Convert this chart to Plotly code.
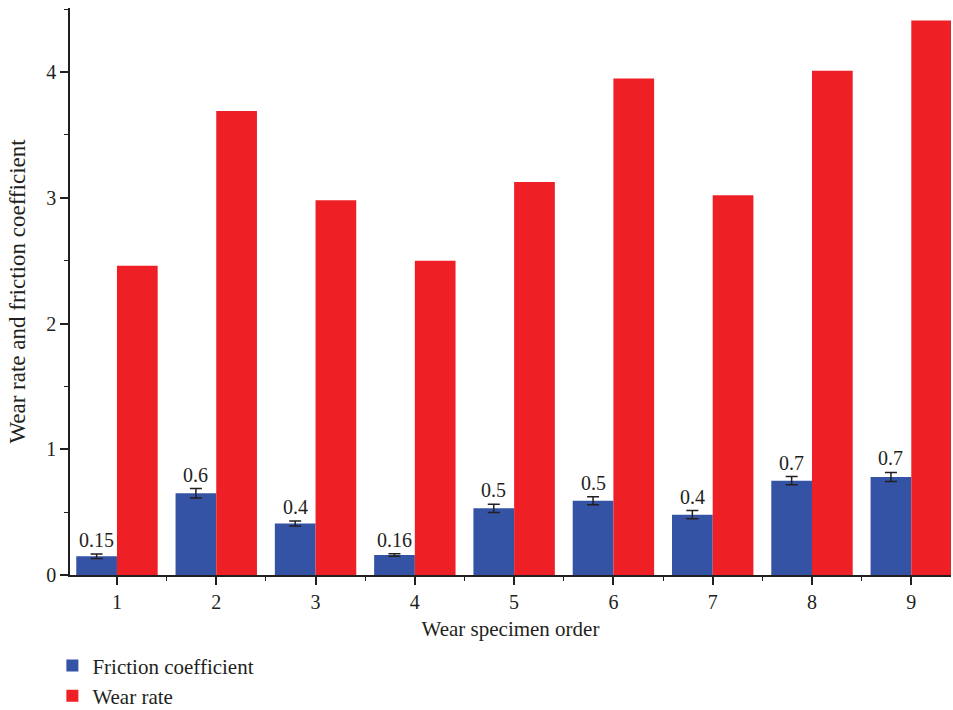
import plotly.graph_objects as go

specimens = [1, 2, 3, 4, 5, 6, 7, 8, 9]
friction = [0.15, 0.65, 0.41, 0.16, 0.53, 0.59, 0.48, 0.75, 0.78]
friction_err = [0.018, 0.038, 0.02, 0.01, 0.032, 0.032, 0.033, 0.033, 0.036]
friction_labels = ["0.15", "0.6", "0.4", "0.16", "0.5", "0.5", "0.4", "0.7", "0.7"]
wear_rate = [2.46, 3.69, 2.98, 2.50, 3.125, 3.95, 3.02, 4.01, 4.41]

FONT = "Liberation Serif"
TXT = "#231f20"
BLUE = "#3453A4"
RED = "#EE1F25"

fig = go.Figure()
fig.add_trace(go.Bar(
    x=specimens, y=friction, name="Friction coefficient", legendgroup="f",
    marker=dict(color=BLUE, line=dict(width=0)),
    error_y=dict(type="data", array=friction_err, visible=True,
                 color=TXT, thickness=1.5, width=6),
))
fig.add_trace(go.Bar(
    x=specimens, y=wear_rate, name="Wear rate", legendgroup="w",
    marker=dict(color=RED, line=dict(width=0)),
))

bargap = 0.18
half = (1 - bargap) / 4
for xv, yv, e, lab in zip(specimens, friction, friction_err, friction_labels):
    fig.add_annotation(x=xv - half, y=yv + e, text=lab, showarrow=False,
                       yanchor="bottom", xanchor="center", yshift=1,
                       font=dict(family=FONT, size=20, color=TXT))

fig.update_layout(
    width=953, height=710,
    margin=dict(l=70, r=2, t=8, b=135, autoexpand=False),
    paper_bgcolor="white", plot_bgcolor="white",
    barmode="group", bargap=bargap, bargroupgap=0,
    font=dict(family=FONT, size=20, color=TXT),
    showlegend=True,
    legend=dict(x=-0.02, y=-0.124, xanchor="left", yanchor="top",
                orientation="v", traceorder="grouped", tracegroupgap=0,
                font=dict(family=FONT, size=21, color=TXT),
                bgcolor="rgba(0,0,0,0)", itemwidth=30),
    xaxis=dict(
        range=[0.527, 9.4], tickmode="array", tickvals=specimens,
        ticktext=[str(s) for s in specimens],
        showline=True, linecolor=TXT, linewidth=1.5,
        ticks="outside", ticklen=8, tickwidth=1.5, tickcolor=TXT,
        minor=dict(ticks="outside", ticklen=4, tickwidth=1, tickcolor=TXT,
                   tickmode="array", tickvals=[s + 0.5 for s in specimens[:-1]]),
        showgrid=False, zeroline=False,
        tickfont=dict(family=FONT, size=20, color=TXT),
        title=dict(text="Wear specimen order", font=dict(family=FONT, size=21, color=TXT), standoff=10),
    ),
    yaxis=dict(
        range=[0, 4.51], tickmode="array", tickvals=[0, 1, 2, 3, 4],
        showline=True, linecolor=TXT, linewidth=1.5,
        ticks="outside", ticklen=8, tickwidth=1.5, tickcolor=TXT,
        minor=dict(ticks="outside", ticklen=4, tickwidth=1, tickcolor=TXT,
                   tickmode="array", tickvals=[0.5, 1.5, 2.5, 3.5, 4.5]),
        showgrid=False, zeroline=False,
        tickfont=dict(family=FONT, size=20, color=TXT),
        title=dict(text="Wear rate and friction coefficient", font=dict(family=FONT, size=23, color=TXT), standoff=14),
    ),
)

fig.write_html("out.html")
